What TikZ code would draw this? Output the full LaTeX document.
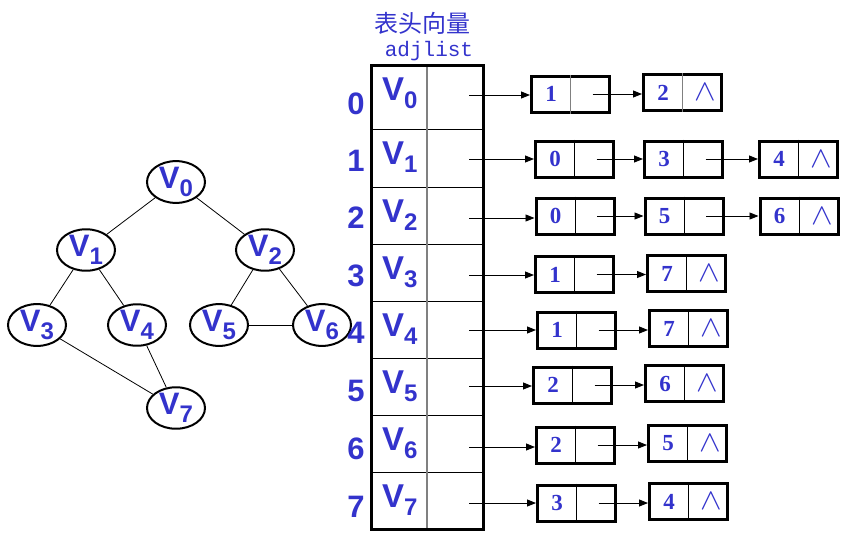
\documentclass[tikz,border=0pt]{standalone}
\usepackage{fontspec}
\setmainfont{Liberation Serif}
\setmonofont{Liberation Mono}
\newfontfamily\labfont{Liberation Sans}
\newfontfamily\cjkfont{Noto Sans CJK SC}
\usetikzlibrary{arrows.meta,shapes.geometric,calc}
\definecolor{ink}{HTML}{3333CC}
\definecolor{divgray}{HTML}{808080}
% lowered vertex index
\newcommand\vsub[1]{\raisebox{-8pt}{\fontsize{24}{24}\selectfont #1}}

\tikzset{
  vert/.style={ellipse, draw, line width=2pt, minimum width=58pt, minimum height=39pt,
    inner sep=0pt, font=\labfont\bfseries\fontsize{31}{31}\selectfont, text=ink},
  edge/.style={line width=0.8pt},
  vlab/.style={inner sep=0pt, font=\labfont\bfseries\fontsize{33}{33}\selectfont, text=ink, anchor=base west},
  rowno/.style={inner sep=0pt, font=\labfont\bfseries\fontsize{31}{31}\selectfont, text=ink},
  lbox/.style={draw, line width=3pt, minimum width=78pt, minimum height=36pt, inner sep=0pt},
  datum/.style={inner sep=0pt, font=\bfseries\fontsize{23}{23}\selectfont, text=ink},
  nil/.style={inner sep=0pt, font=\fontsize{40}{40}\selectfont, text=ink},
  link/.style={line width=0.9pt, -{Triangle[length=9pt,width=7pt]}},
  plaindiv/.style={line width=1pt},
  greydiv/.style={line width=1.5pt, divgray},
}

% list cell: name, x, y, datum, divider style
\newcommand\cellpair[5]{%
  \node[lbox] (#1) at (#2,#3) {};
  \draw[#5] (#1.north) -- (#1.south);
  \node[datum] (#1-d) at ($(#1.center)+(-19.5,0)$) {#4};
  \coordinate (#1-p) at ($(#1.center)+(22,0)$);
}
% null pointer mark in the second half of a cell
\newcommand\nilmark[1]{%
  \node[nil] (#1-n) at ($(#1.center)+(23,0)$) {\scalebox{1.3}[1.2]{$\wedge$}};
}

\begin{document}
\begin{tikzpicture}[x=1pt,y=-1pt]
\useasboundingbox (0,0) rectangle (849,547);

% ---- graph ----
\node[vert] (v0) at (176,182) {V\vsub{0}};
\node[vert] (v1) at (86,250)  {V\vsub{1}};
\node[vert] (v2) at (265,250) {V\vsub{2}};
\node[vert] (v3) at (37,325)  {V\vsub{3}};
\node[vert] (v4) at (137,325) {V\vsub{4}};
\node[vert] (v5) at (219,325) {V\vsub{5}};
\node[vert] (v6) at (322,325) {V\vsub{6}};
\node[vert] (v7) at (176,408) {V\vsub{7}};
\draw[edge] (v0) -- (v1);
\draw[edge] (v0) -- (v2);
\draw[edge] (v1) -- (v3);
\draw[edge] (v1) -- (v4);
\draw[edge] (v2) -- (v5);
\draw[edge] (v2) -- (v6);
\draw[edge] (v5) -- (v6);
\draw[edge] (v3) -- (v7);
\draw[edge] (v4) -- (v7);

% ---- header ----
\node[inner sep=0pt, font=\cjkfont\fontsize{24}{24}\selectfont, text=ink] (title) at (422.5,23) {表头向量};
\node[inner sep=0pt, font=\ttfamily\fontsize{21}{21}\selectfont, text=ink, anchor=base] (adj) at (429,56) {adjlist};

% ---- head table ----
\foreach \y in {129,187,244,301,358,415,472}
  \draw[line width=1pt] (371,\y) -- (483,\y);
\draw[greydiv] (427,65) -- (427,529);
\draw[line width=3pt] (371,65) rectangle (483,529);

\foreach \i/\b/\r in {0/100/104,1/164/161,2/222/218,3/279/276,4/336/333,5/393/391,6/450/449,7/507/507} {
  \node[vlab] (h\i) at (382,\b) {V\vsub{\i}};
  \node[rowno] (n\i) at (356,\r) {\i};
}
\foreach \i/\y in {0/95,1/159,2/218,3/275,4/330,5/386,6/447,7/503}
  \coordinate (h\i-p) at (469,\y);

% ---- adjacency lists ----
\cellpair{r0a}{570.5}{94}{1}{greydiv}
\cellpair{r0b}{682.5}{92.5}{2}{greydiv} \nilmark{r0b}

\cellpair{r1a}{574.5}{159}{0}{plaindiv}
\cellpair{r1b}{683.5}{159}{3}{plaindiv}
\cellpair{r1c}{798.5}{159}{4}{plaindiv} \nilmark{r1c}

\cellpair{r2a}{575}{216}{0}{plaindiv}
\cellpair{r2b}{684}{216}{5}{plaindiv}
\cellpair{r2c}{799}{216}{6}{plaindiv} \nilmark{r2c}

\cellpair{r3a}{574.5}{274.5}{1}{plaindiv}
\cellpair{r3b}{686.5}{273.5}{7}{plaindiv} \nilmark{r3b}

\cellpair{r4a}{576.5}{330}{1}{plaindiv}
\cellpair{r4b}{688.5}{328.5}{7}{plaindiv} \nilmark{r4b}

\cellpair{r5a}{572.5}{385}{2}{plaindiv}
\cellpair{r5b}{684.5}{383.5}{6}{plaindiv} \nilmark{r5b}

\cellpair{r6a}{575.5}{445}{2}{plaindiv}
\cellpair{r6b}{687.5}{443.5}{5}{plaindiv} \nilmark{r6b}

\cellpair{r7a}{576.5}{503}{3}{plaindiv}
\cellpair{r7b}{688.5}{501.5}{4}{plaindiv} \nilmark{r7b}

% ---- pointers ----
\foreach \i in {0,...,7}
  \draw[link] (h\i-p) -- (h\i-p -| r\i a.west);
\foreach \i in {0,...,7}
  \draw[link] (r\i a-p) -- (r\i a-p -| r\i b.west);
\draw[link] (r1b-p) -- (r1b-p -| r1c.west);
\draw[link] (r2b-p) -- (r2b-p -| r2c.west);
\end{tikzpicture}
\end{document}
